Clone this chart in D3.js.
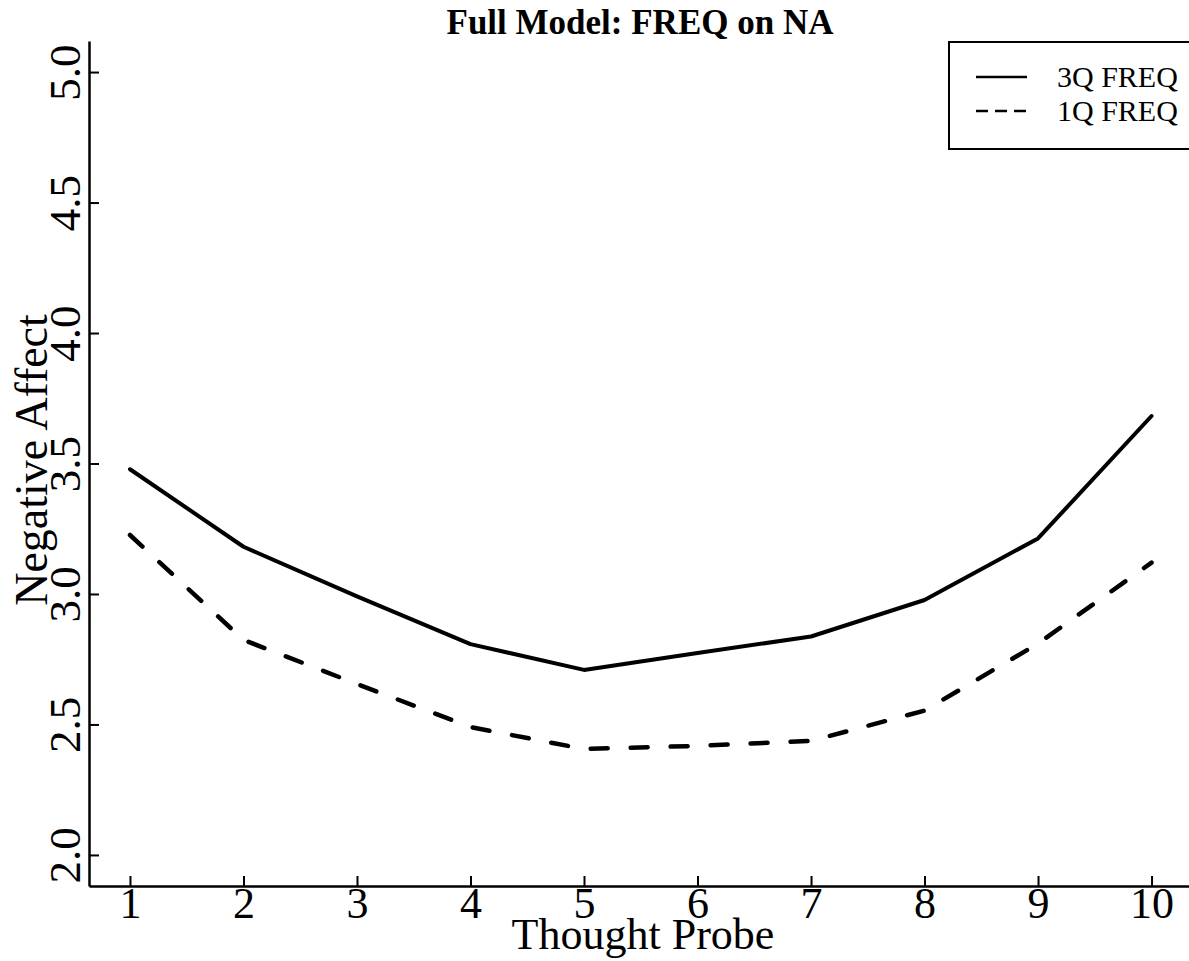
<!DOCTYPE html>
<html>
<head>
<meta charset="utf-8">
<script src="https://cdn.jsdelivr.net/npm/d3@7"></script>
<style>
  body { margin: 0; background: #fff; }
  svg { display: block; font-family: "Liberation Serif", "Times New Roman", serif; }
</style>
</head>
<body>
<div id="chart"></div>
<script>
// values
let probes = [1, 2, 3, 4, 5, 6, 7, 8, 9, 10]
let freq3Q = [3.478, 3.181, 2.991, 2.808, 2.709, 2.774, 2.837, 2.977, 3.213, 3.682]
let freq1Q = [3.226, 2.824, 2.655, 2.490, 2.406, 2.418, 2.437, 2.553, 2.810, 3.120]
let yTicks = [2.0, 2.5, 3.0, 3.5, 4.0, 4.5, 5.0]
let seriesNames = ['3Q FREQ', '1Q FREQ']

let width = 1189
let height = 961

let svg = d3.select('#chart').append('svg')
    .attr('width', width)
    .attr('height', height)

// plot region runs off the right edge like the original
let x = d3.scaleLinear().domain([0.639, 10.33]).range([89, 1189])
let y = d3.scaleLinear().domain([1.881, 5.119]).range([886, 41])

// x axis, ticks pointing inward
let xAxis = svg.append('g')
    .attr('transform', 'translate(0,886)')
    .call(d3.axisBottom(x).tickValues(probes).tickSizeInner(-10).tickSizeOuter(0).tickPadding(1).tickFormat(d3.format('d')))
xAxis.attr('font-family', null)
xAxis.select('.domain').attr('stroke-width', 2.5)
xAxis.selectAll('.tick line').attr('stroke-width', 2)
xAxis.selectAll('text').attr('font-size', 44).attr('fill', '#000')

// y axis, labels rotated
let yAxis = svg.append('g')
    .attr('transform', 'translate(89,0)')
    .call(d3.axisLeft(y).tickValues(yTicks).tickSizeInner(-10).tickSizeOuter(0).tickFormat(d3.format('.1f')))
yAxis.attr('font-family', null)
yAxis.select('.domain').attr('stroke-width', 2.5)
yAxis.selectAll('.tick line').attr('stroke-width', 2)
yAxis.selectAll('text')
    .attr('x', 0).attr('y', 0).attr('dy', 0)
    .attr('text-anchor', 'middle')
    .attr('transform', 'translate(-9,0) rotate(-90)')
    .attr('font-size', 45).attr('fill', '#000')

let line = d3.line()
    .x((d, i) => x(probes[i]))
    .y(d => y(d))

svg.append('path')
    .datum(freq3Q)
    .attr('d', line)
    .attr('fill', 'none')
    .attr('stroke', '#000')
    .attr('stroke-width', 4)
    .attr('stroke-linejoin', 'round')
    .attr('stroke-linecap', 'round')

svg.append('path')
    .datum(freq1Q)
    .attr('d', line)
    .attr('fill', 'none')
    .attr('stroke', '#000')
    .attr('stroke-width', 4.5)
    .attr('stroke-linecap', 'round')
    .attr('stroke-dasharray', '17,23')

// titles
svg.append('text')
    .attr('x', 640).attr('y', 34)
    .attr('text-anchor', 'middle')
    .attr('font-size', 35).attr('font-weight', 'bold')
    .text('Full Model: FREQ on NA')

svg.append('text')
    .attr('x', 643).attr('y', 949)
    .attr('text-anchor', 'middle')
    .attr('font-size', 44)
    .text('Thought Probe')

svg.append('text')
    .attr('transform', 'translate(47,460) rotate(-90)')
    .attr('text-anchor', 'middle')
    .attr('font-size', 46)
    .text('Negative Affect')

// legend box in the top right corner
let legend = svg.append('g')
legend.append('rect')
    .attr('x', 949).attr('y', 42)
    .attr('width', 260).attr('height', 107)
    .attr('fill', '#fff')
    .attr('stroke', '#000')
    .attr('stroke-width', 2)

let legendY = [77, 111]
let legendDash = [null, '12,7']
seriesNames.forEach((name, i) => {
  legend.append('line')
      .attr('x1', 976).attr('x2', 1027)
      .attr('y1', legendY[i]).attr('y2', legendY[i])
      .attr('stroke', '#000')
      .attr('stroke-width', 2.5)
      .attr('stroke-dasharray', legendDash[i])
  legend.append('text')
      .attr('x', 1057).attr('y', legendY[i] + 10)
      .attr('font-size', 30)
      .text(name)
})
</script>
</body>
</html>
